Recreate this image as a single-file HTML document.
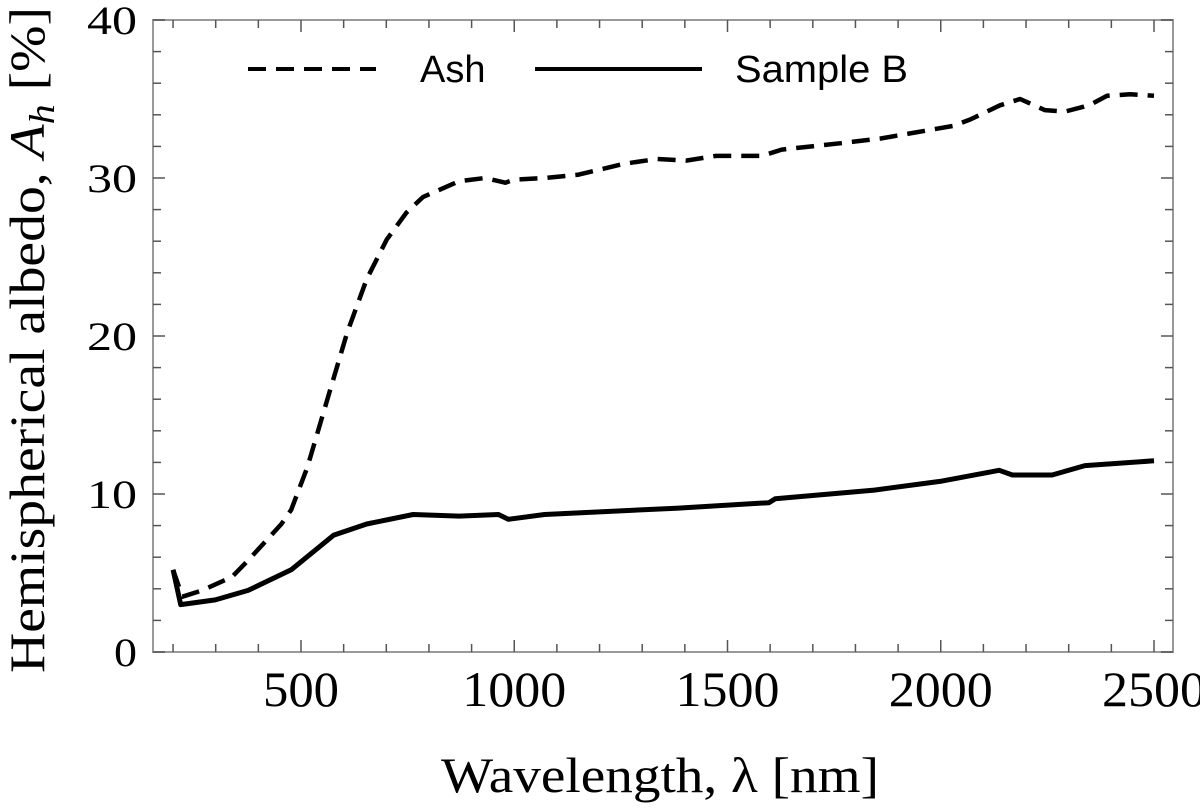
<!DOCTYPE html>
<html><head><meta charset="utf-8"><style>
html,body{margin:0;padding:0;background:#fff;}
svg{display:block;}
</style></head><body>
<svg id="chart" width="1200" height="809" viewBox="0 0 1200 809" xmlns="http://www.w3.org/2000/svg">
<rect x="0" y="0" width="1200" height="809" fill="#fff"/>
<g id="axes"></g>
<g id="series"></g>
<text transform="translate(44,340) rotate(-90)" text-anchor="middle" font-family="'Liberation Serif', serif" font-size="50" textLength="666" lengthAdjust="spacingAndGlyphs">Hemispherical albedo, <tspan font-style="italic">A</tspan><tspan font-style="italic" font-size="36" dy="10">h</tspan><tspan dy="-10"> [%]</tspan></text>
<text x="660" y="792" text-anchor="middle" font-family="'Liberation Serif', serif" font-size="50" textLength="438" lengthAdjust="spacingAndGlyphs">Wavelength, λ [nm]</text>
<g>
<line x1="248" y1="69" x2="376" y2="69" stroke="#000" stroke-width="4" stroke-dasharray="18,10"/>
<text x="420" y="82" font-family="'Liberation Sans', sans-serif" font-size="38">Ash</text>
<line x1="535" y1="69" x2="702" y2="69" stroke="#000" stroke-width="4"/>
<text x="735" y="82" font-family="'Liberation Sans', sans-serif" font-size="38" textLength="173" lengthAdjust="spacingAndGlyphs">Sample B</text>
</g>
</svg>
<script>
const ashWl = [200,222,268,338,376,454,477,515,562,608,654,701,747,786,871,932,979,1000,1071,1149,1257,1334,1403,1473,1581,1627,1766,1859,2029,2069,2139,2186,2244,2291,2333,2355,2390,2444,2500];
const ashVal = [5.2,3.5,3.9,4.75,5.8,8.1,9.0,11.7,16.0,20.2,23.6,26.1,27.8,28.8,29.8,30.0,29.7,29.9,30.0,30.2,30.9,31.2,31.1,31.4,31.4,31.8,32.2,32.5,33.3,33.7,34.6,35.0,34.3,34.2,34.5,34.7,35.2,35.3,35.2];
const sbWl = [200,218,299,376,477,577,654,763,871,963,986,1071,1380,1597,1612,1844,1998,2137,2168,2261,2338,2500];
const sbVal = [5.2,3.0,3.3,3.9,5.2,7.4,8.1,8.7,8.6,8.7,8.4,8.7,9.1,9.45,9.7,10.25,10.8,11.5,11.2,11.2,11.8,12.1];
const xMajor = [500,1000,1500,2000,2500];
const yMajor = [0,10,20,30,40];

const L=153,R=1173,T=20,B=652;
const X = v => 301 + (v-500)*0.4265;
const Y = v => B - (v/40)*(B-T);
const NS="http://www.w3.org/2000/svg";
const axes=document.getElementById('axes'), ser=document.getElementById('series');
function mk(tag,attrs,parent){const e=document.createElementNS(NS,tag);for(const k in attrs)e.setAttribute(k,attrs[k]);parent.appendChild(e);return e;}

const frame=mk('rect',{x:L,y:T,width:R-L,height:B-T,fill:'none',stroke:'#999','stroke-width':2},axes);



for(let v=200; v<=2500; v+=100){
  const maj = v%500===0, len = maj?12:8, x=X(v);
  const t1=mk('line',{x1:x,y1:B,x2:x,y2:B-len,stroke:'#555','stroke-width':1.5},axes);
  
  
  const t2=mk('line',{x1:x,y1:T,x2:x,y2:T+len,stroke:'#555','stroke-width':1.5},axes);
  
  
}
for(let v=0; v<=40; v+=2){
  const maj = v%10===0, len = maj?12:8, y=Y(v);
  const t1=mk('line',{x1:L,y1:y,x2:L+len,y2:y,stroke:'#555','stroke-width':1.5},axes);
  
  
  const t2=mk('line',{x1:R,y1:y,x2:R-len,y2:y,stroke:'#555','stroke-width':1.5},axes);
  
  
}
xMajor.forEach(v=>{
  const t=mk('text',{x:X(v),y:706,'text-anchor':'middle','font-family':"'Liberation Serif', serif",'font-size':50,textLength:v>=1000?104:76,lengthAdjust:'spacingAndGlyphs'},axes);
  t.textContent=v;
  
  
});
yMajor.forEach(v=>{
  const t=mk('text',{x:137,y:Y(v)+14,'text-anchor':'end','font-family':"'Liberation Serif', serif",'font-size':40,textLength:v>=10?50:23,lengthAdjust:'spacingAndGlyphs'},axes);
  t.textContent=v;
  
  
});
function path(wl,val){return wl.map((w,i)=>(i?'L':'M')+X(w).toFixed(1)+','+Y(val[i]).toFixed(1)).join(' ');}
const pa=mk('path',{d:path(ashWl,ashVal),fill:'none',stroke:'#000','stroke-width':4.5,'stroke-dasharray':'18,10','stroke-linejoin':'round'},ser);


const pb=mk('path',{d:path(sbWl,sbVal),fill:'none',stroke:'#000','stroke-width':5,'stroke-linejoin':'round'},ser);


</script>
</body></html>
